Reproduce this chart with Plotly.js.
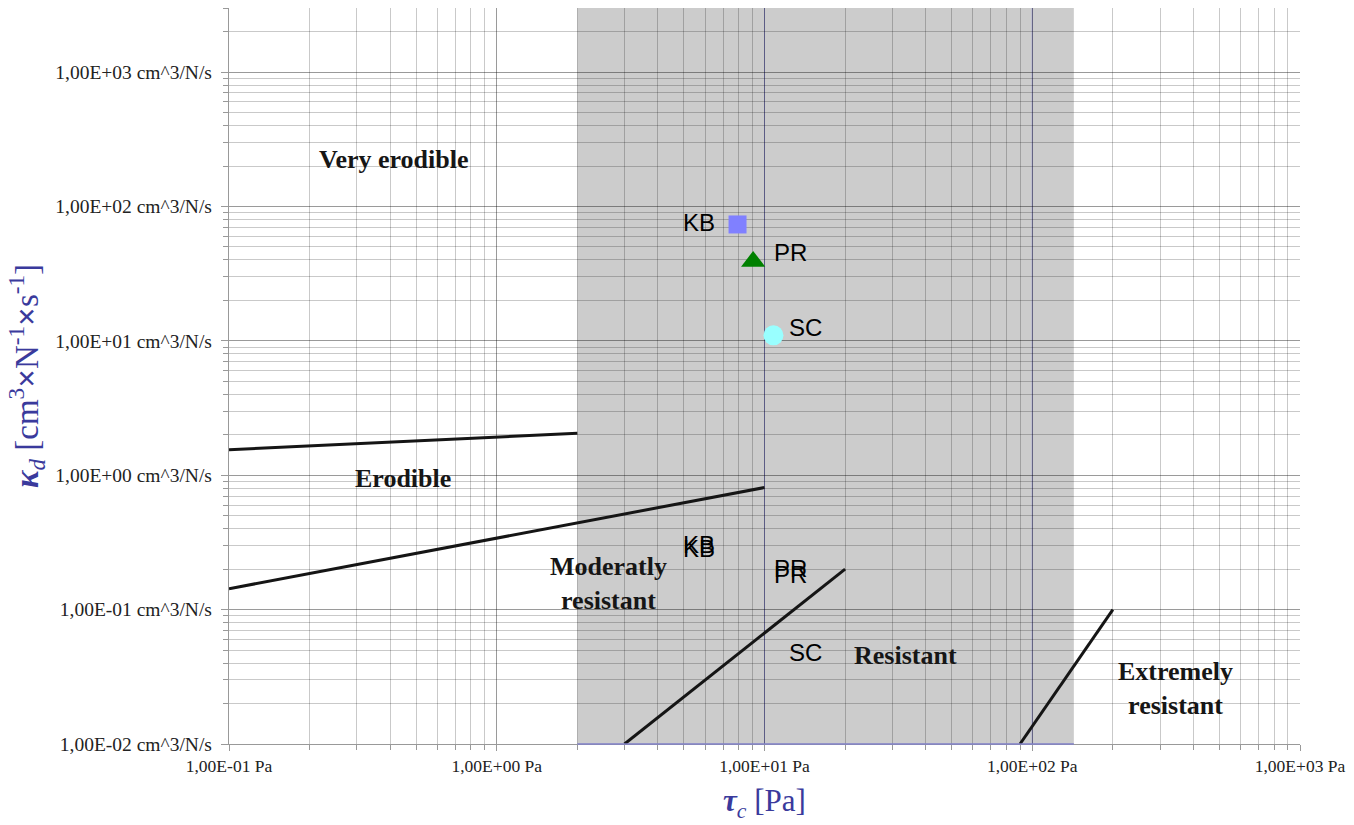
<!DOCTYPE html>
<html>
<head>
<meta charset="utf-8">
<script src="https://cdn.plot.ly/plotly-3.0.1.min.js"></script>
<style>html,body{margin:0;padding:0;background:#fff;}#chart{width:1354px;height:825px;}</style>
</head>
<body>
<div id="chart"></div>
<script>
// ---- data ----
const sampleNames = ["KB", "PR", "SC"];
const sampleTau = [7.93, 9.07, 10.8];
const sampleKd = [73.5, 39, 11];

const line1Tau = [0.1, 2];
const line1Kd = [1.55, 2.05];
const line2Tau = [0.1, 10];
const line2Kd = [0.143, 0.81];
const line3Tau = [3, 20];
const line3Kd = [0.01, 0.2];
const line4Tau = [90, 200];
const line4Kd = [0.01, 0.1];

const shadeTau = [2, 143];
const blueLineTau = [10, 100];

const xTickVals = [0.1, 1, 10, 100, 1000];
const xTickText = ["1,00E-01 Pa", "1,00E+00 Pa", "1,00E+01 Pa", "1,00E+02 Pa", "1,00E+03 Pa"];
const yTickVals = [0.01, 0.1, 1, 10, 100, 1000];
const yTickText = ["1,00E-02 cm^3/N/s", "1,00E-01 cm^3/N/s", "1,00E+00 cm^3/N/s",
                   "1,00E+01 cm^3/N/s", "1,00E+02 cm^3/N/s", "1,00E+03 cm^3/N/s"];

const zoneNames = ["Very erodible", "Erodible", "Moderatly<br>resistant", "Resistant", "Extremely<br>resistant"];
const zoneTau = [0.413, 0.447, 2.62, 33.6, 342];
const zoneKd = [224, 0.95, 0.156, 0.0454, 0.0257];

// duplicated sample labels in the lower area
const ghostNames = ["KB", "KB", "PR", "PR", "SC"];
const ghostTau = [7.93, 7.93, 9.07, 9.07, 10.8];
const ghostKd = [0.305, 0.285, 0.202, 0.182, 0.0478];

// ---- traces ----
const lineStyle = {color: "#151515", width: 3};
const traces = [
  {x: line1Tau, y: line1Kd, mode: "lines", line: lineStyle, hoverinfo: "skip"},
  {x: line2Tau, y: line2Kd, mode: "lines", line: lineStyle, hoverinfo: "skip"},
  {x: line3Tau, y: line3Kd, mode: "lines", line: lineStyle, hoverinfo: "skip"},
  {x: line4Tau, y: line4Kd, mode: "lines", line: lineStyle, hoverinfo: "skip"},
  {x: [sampleTau[0]], y: [sampleKd[0]], mode: "markers", name: sampleNames[0],
   marker: {symbol: "square", size: 18, color: "#8080ff"}},
  {x: [sampleTau[1]], y: [sampleKd[1]], mode: "markers", name: sampleNames[1],
   marker: {symbol: "triangle-up", size: 21, color: "#008000"}},
  {x: [sampleTau[2]], y: [sampleKd[2]], mode: "markers", name: sampleNames[2],
   marker: {symbol: "circle", size: 20, color: "#99ffff"}}
];

// ---- annotations ----
const sampleShift = [[-39, 2], [37, 9], [32, 8]];
const labelFont = {family: "Liberation Sans, Arial, sans-serif", size: 24, color: "#000"};
const annotations = [];
sampleNames.forEach((n, i) => {
  annotations.push({x: Math.log10(sampleTau[i]), y: Math.log10(sampleKd[i]), text: n, showarrow: false,
    xshift: sampleShift[i][0], yshift: sampleShift[i][1], font: labelFont});
});
ghostNames.forEach((n, i) => {
  const sh = n === "KB" ? -39 : (n === "PR" ? 37 : 32);
  annotations.push({x: Math.log10(ghostTau[i]), y: Math.log10(ghostKd[i]), text: n, showarrow: false,
    xshift: sh, font: labelFont});
});
zoneNames.forEach((n, i) => {
  annotations.push({x: Math.log10(zoneTau[i]), y: Math.log10(zoneKd[i]), text: "<b>" + n + "</b>", showarrow: false,
    font: {family: "Liberation Serif, Times New Roman, serif", size: 26, color: "#161616"}});
});

// ---- shapes ----
const shapes = [
  {type: "rect", xref: "x", yref: "paper", x0: shadeTau[0], x1: shadeTau[1], y0: 0, y1: 1,
   fillcolor: "#cccccc", line: {width: 0}, layer: "below"}
];
blueLineTau.forEach(v => shapes.push({type: "line", xref: "x", yref: "paper", x0: v, x1: v, y0: 0, y1: 1,
  line: {color: "#9999dd", width: 1}, layer: "between"}));
shapes.push({type: "line", xref: "x", yref: "paper", x0: shadeTau[0], x1: shadeTau[1], y0: 0, y1: 0,
  line: {color: "#8080c8", width: 1.5}, layer: "above"});

const serif = "Liberation Serif, Times New Roman, serif";
const titleColor = "#3a3a9c";
const gridMajor = "rgba(0,0,0,0.23)";
const gridMinor = "rgba(0,0,0,0.21)";

const layout = {
  width: 1354, height: 825,
  margin: {l: 229, r: 54, t: 8, b: 81},
  paper_bgcolor: "#ffffff", plot_bgcolor: "#ffffff",
  showlegend: false,
  xaxis: {
    type: "log", range: [-1, 3],
    tickvals: xTickVals, ticktext: xTickText, tickfont: {family: serif, size: 17.5, color: "#222"},
    ticks: "outside", ticklen: 6, tickcolor: "#999",
    showgrid: true, gridcolor: gridMajor, gridwidth: 1,
    minor: {dtick: "D1", showgrid: true, gridcolor: gridMinor, ticks: "outside", ticklen: 5, tickcolor: "#999"},
    showline: true, linecolor: "#999", linewidth: 1.2,
    zeroline: false,
    title: {text: "<b><i>τ</i></b><sub><i>c</i></sub> [Pa]", font: {family: serif, size: 31, color: titleColor}, standoff: 14}
  },
  yaxis: {
    type: "log", range: [-2, Math.log10(3000)],
    tickvals: yTickVals, ticktext: yTickText, tickfont: {family: serif, size: 19.5, color: "#222"},
    ticklabelstandoff: 5,
    ticks: "outside", ticklen: 7, tickcolor: "#999",
    showgrid: true, gridcolor: gridMajor, gridwidth: 1,
    minor: {dtick: "D1", showgrid: true, gridcolor: gridMinor, ticks: "outside", ticklen: 5, tickcolor: "#999"},
    showline: true, linecolor: "#999", linewidth: 1.2,
    zeroline: false,
    title: {text: "<b><i>κ</i></b><sub><i>d</i></sub> [cm<sup>3</sup><b>×</b>N<sup>-1</sup><b>×</b>s<sup>-1</sup>]", font: {family: serif, size: 33, color: titleColor}, standoff: 6}
  },
  shapes: shapes,
  annotations: annotations
};

Plotly.newPlot("chart", traces, layout, {displayModeBar: false, staticPlot: true});
</script>
</body>
</html>
